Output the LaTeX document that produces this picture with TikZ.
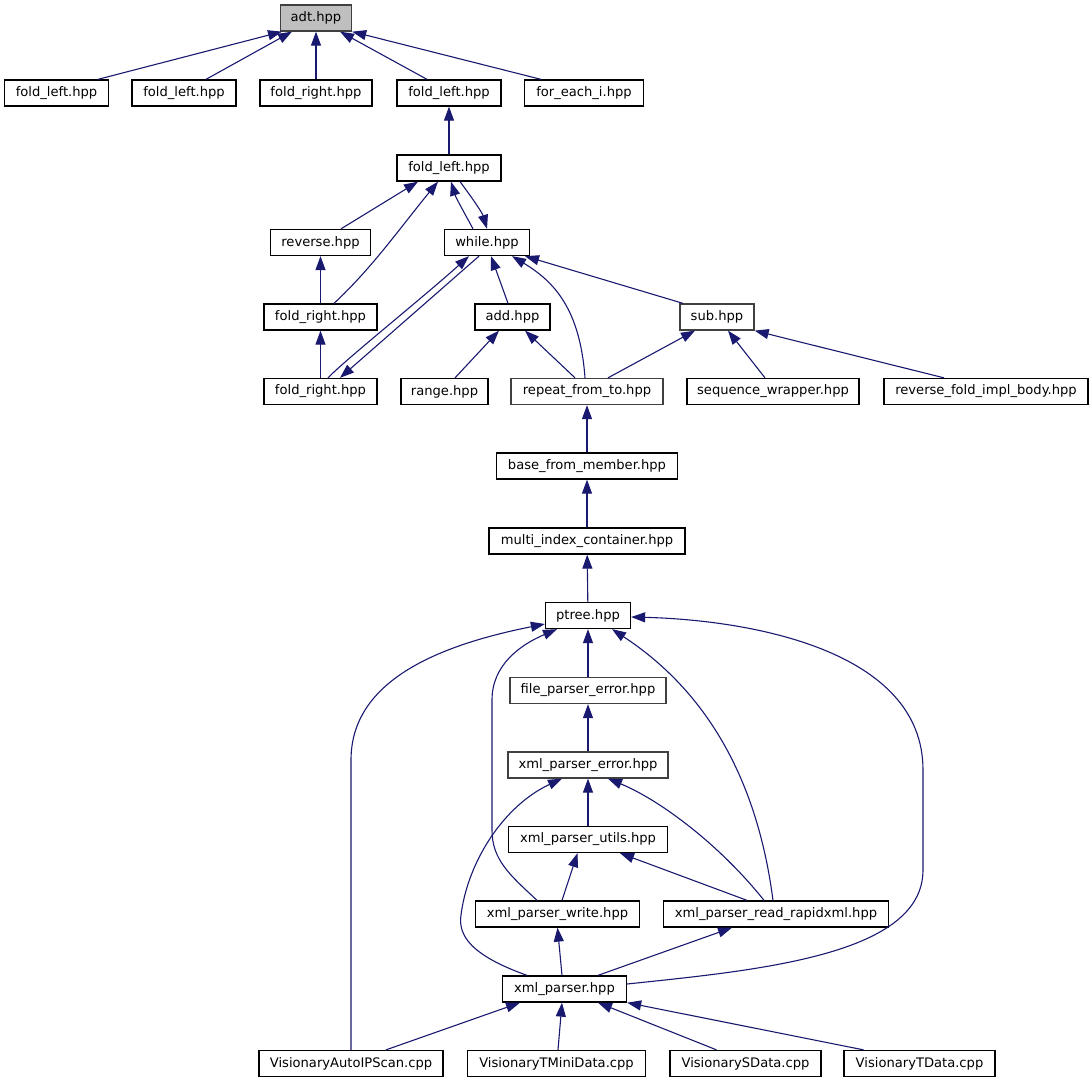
\documentclass[tikz,border=0pt]{standalone}
\usepackage{fontspec}
\setmainfont{DejaVu Sans}
\usetikzlibrary{arrows.meta}
\definecolor{midnight}{RGB}{25,25,112}
\definecolor{darkline}{HTML}{404040}
\definecolor{rootfill}{HTML}{BFBFBF}
\begin{document}
\begin{tikzpicture}[x=1pt, y=-1pt, every node/.style={font=\fontsize{13.1pt}{15pt}\selectfont}, header/.style={draw=black, line width=1.3pt, fill=white, minimum height=26pt, inner sep=0pt, minimum width=#1pt}, grayline/.style={draw=darkline}, root/.style={draw=darkline, fill=rootfill}, incl/.style={draw=midnight, line width=1.1pt, -{Triangle[length=14pt, width=10pt]}}]
	\useasboundingbox (0,0) rectangle (1092,1083);
	\node[header=71, root] (1) at (316,18) {adt.hpp};
	\node[header=104] (2) at (56.5,93) {fold\_left.hpp};
	\node[header=104] (3) at (184,93) {fold\_left.hpp};
	\node[header=112] (4) at (316,93) {fold\_right.hpp};
	\node[header=104] (5) at (449,93) {fold\_left.hpp};
	\node[header=119] (6) at (584,93) {for\_each\_i.hpp};
	\node[header=104] (7) at (449,168) {fold\_left.hpp};
	\node[header=100] (8) at (320.5,242.5) {reverse.hpp};
	\node[header=85] (9) at (487,242.5) {while.hpp};
	\node[header=113] (10) at (320.5,317) {fold\_right.hpp};
	\node[header=75] (11) at (512.5,317) {add.hpp};
	\node[header=74, grayline] (12) at (717,317) {sub.hpp};
	\node[header=113] (13) at (320.5,391.5) {fold\_right.hpp};
	\node[header=87] (14) at (444.5,391.5) {range.hpp};
	\node[header=152, grayline] (15) at (587,391.5) {repeat\_from\_to.hpp};
	\node[header=172] (16) at (773,391.5) {sequence\_wrapper.hpp};
	\node[header=204] (17) at (986,391.5) {reverse\_fold\_impl\_body.hpp};
	\node[header=181] (18) at (587,466) {base\_from\_member.hpp};
	\node[header=196] (19) at (587,541) {multi\_index\_container.hpp};
	\node[header=85] (20) at (588,615.5) {ptree.hpp};
	\node[header=156, grayline] (21) at (588,690.5) {file\_parser\_error.hpp};
	\node[header=160, grayline] (22) at (588,765) {xml\_parser\_error.hpp};
	\node[header=159] (23) at (588,839.5) {xml\_parser\_utils.hpp};
	\node[header=164] (24) at (557.5,914) {xml\_parser\_write.hpp};
	\node[header=225] (25) at (776,914) {xml\_parser\_read\_rapidxml.hpp};
	\node[header=124] (26) at (564.5,989) {xml\_parser.hpp};
	\node[header=184] (27) at (351,1063.5) {VisionaryAutoIPScan.cpp};
	\node[header=178] (28) at (556.5,1063.5) {VisionaryTMiniData.cpp};
	\node[header=151] (29) at (745.5,1063.5) {VisionarySData.cpp};
	\node[header=151] (30) at (919.5,1063.5) {VisionaryTData.cpp};
	\draw[incl] ([xshift=41.5pt]2.north) -- ([xshift=-34pt]1.south);
	\draw[incl] ([xshift=22pt]3.north) -- ([xshift=-24pt]1.south);
	\draw[incl] (4) -- (1);
	\draw[incl] ([xshift=-22pt]5.north) -- ([xshift=24pt]1.south);
	\draw[incl] ([xshift=-43pt]6.north) -- (1.south east);
	\draw[incl] (7) -- (5);
	\draw[incl] ([xshift=20.5pt]8.north) -- ([xshift=-31pt]7.south);
	\draw[incl] ([xshift=13.5pt]10.north) .. controls (372,268) and (400,228) .. ([xshift=-11pt]7.south);
	\draw[incl] ([xshift=-14pt]9.north) .. controls (465,214) and (456,198) .. ([xshift=2pt]7.south);
	\draw[incl] ([xshift=11pt]7.south) .. controls (470,195) and (482,212) .. (9.north);
	\draw[incl] (10) -- (8);
	\draw[incl] (13) -- (10);
	\draw[incl] ([xshift=7.5pt]13.north) .. controls (345,360) and (420,300) .. ([xshift=-18pt]9.south);
	\draw[incl] ([xshift=-8pt]9.south) -- ([xshift=19.5pt]13.north);
	\draw[incl] ([xshift=-4.5pt]11.north) -- ([xshift=4pt]9.south);
	\draw[incl] ([xshift=-2pt]15.north) .. controls (580,310) and (555,282) .. ([xshift=25pt]9.south);
	\draw[incl] ([xshift=-34pt]12.north) -- ([xshift=38pt]9.south);
	\draw[incl] ([xshift=10.5pt]14.north) -- ([xshift=-13.5pt]11.south);
	\draw[incl] ([xshift=-12pt]15.north) -- ([xshift=12.5pt]11.south);
	\draw[incl] ([xshift=21pt]15.north) -- ([xshift=-22pt]12.south);
	\draw[incl] ([xshift=-8pt]16.north) -- ([xshift=11pt]12.south);
	\draw[incl] ([xshift=-42pt]17.north) -- (12.south east);
	\draw[incl] (18) -- (15);
	\draw[incl] (19) -- (18);
	\draw[incl] (20) -- (19);
	\draw[incl] (27.north) -- (351,760) .. controls (351,680) and (440,645) .. ([yshift=-8.5pt]20.west);
	\draw[incl] ([xshift=-20.5pt]24.north) .. controls (510,875) and (492,860) .. (492,830) -- (492,700) .. controls (492,665) and (520,645) .. ([xshift=-31pt]20.south);
	\draw[incl] (21) -- (20);
	\draw[incl] ([xshift=-3pt]25.north) .. controls (760,800) and (720,700) .. ([xshift=24pt]20.south);
	\draw[incl] ([yshift=5pt]26.east) .. controls (760,970) and (923,955) .. (923,870) -- (923,770) .. controls (923,650) and (750,620) .. ([yshift=-1.5pt]20.east);
	\draw[incl] (22) -- (21);
	\draw[incl] (23) -- (22);
	\draw[incl] ([xshift=-37.5pt]26.north) .. controls (470,955) and (458,935) .. (461,915) .. controls (468,860) and (505,805) .. ([xshift=-26pt]22.south);
	\draw[incl] ([xshift=4.5pt]24.north) -- ([xshift=-10.5pt]23.south);
	\draw[incl] ([xshift=-29pt]25.north) -- ([xshift=32pt]23.south);
	\draw[incl] ([xshift=-12pt]25.north) .. controls (720,845) and (660,800) .. ([xshift=20pt]22.south);
	\draw[incl] ([xshift=-2.5pt]26.north) -- (24.south);
	\draw[incl] ([xshift=33.5pt]26.north) -- ([xshift=-44pt]25.south);
	\draw[incl] ([xshift=35pt]27.north) -- ([xshift=-44.5pt]26.south);
	\draw[incl] ([xshift=1.5pt]28.north) -- ([xshift=-2.5pt]26.south);
	\draw[incl] ([xshift=-29pt]29.north) -- ([xshift=33.5pt]26.south);
	\draw[incl] ([xshift=-56pt]30.north) -- (26.south east);
\end{tikzpicture}
\end{document}
